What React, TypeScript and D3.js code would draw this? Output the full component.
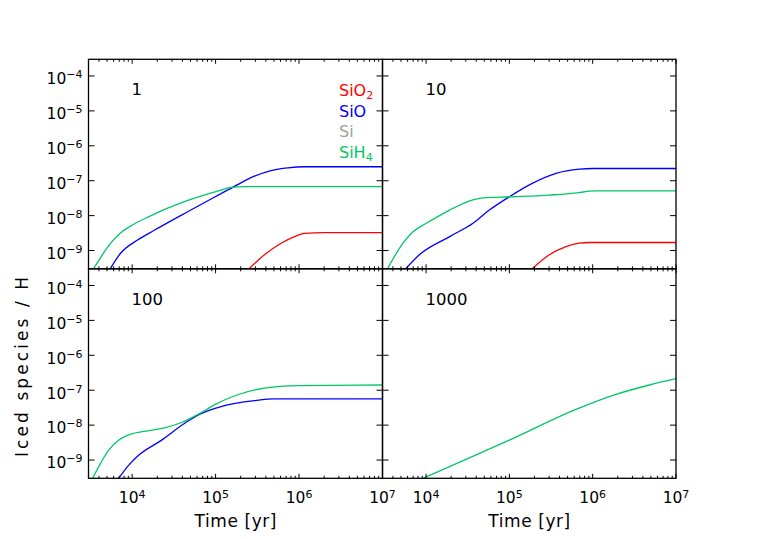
import { useEffect, useRef } from "react";
import * as d3 from "d3";

const width = 763;
const height = 539;
const colX = [88.5, 382.5, 676];
const rowY = [59.3, 268.8, 478.3];
const timeDomain = [3000, 1e7];
const abundDomain = [3e-10, 3e-4];
const font = "DejaVu Sans, Verdana, sans-serif";

const colors = { SiO2: "#ff0000", SiO: "#0000ff", Si: "#a0a0a0", SiH4: "#00c864" };
const panelLabels = ["1", "10", "100", "1000"];

// [time (yr), abundance]
const p1SiO2 = [[245471, 2.82e-10], [385478, 7.59e-10], [609537, 1.62e-9], [883079, 2.51e-9], [1164126, 3.09e-9], [1995262, 3.24e-9], [1e7, 3.24e-9]];
const p1SiO = [[5370, 2.82e-10], [7311, 8.51e-10], [11614, 2.0e-9], [18408, 3.8e-9], [46238, 1.29e-8], [116145, 4.27e-8], [184077, 7.76e-8], [292415, 1.35e-7], [462381, 1.95e-7], [732825, 2.34e-7], [1164126, 2.51e-7], [1e7, 2.51e-7]];
const p1SiH4 = [[3388, 2.82e-10], [4074, 5.62e-10], [4898, 1.12e-9], [7079, 3.02e-9], [10233, 5.5e-9], [16218, 9.55e-9], [25704, 1.585e-8], [45709, 2.69e-8], [116145, 5.37e-8], [153109, 6.46e-8], [223872, 6.76e-8], [1e7, 6.76e-8]];

const p2SiO2 = [[181970, 2.82e-10], [301995, 7.59e-10], [478630, 1.29e-9], [691831, 1.62e-9], [912011, 1.7e-9], [1e7, 1.7e-9]];
const p2SiO = [[5559, 2.82e-10], [8318, 7.59e-10], [19187, 2.51e-9], [36559, 6.03e-9], [57544, 1.445e-8], [1e5, 3.47e-8], [190546, 8.51e-8], [363078, 1.62e-7], [691831, 2.14e-7], [1e6, 2.24e-7], [1e7, 2.24e-7]];
const p2SiH4 = [[3388, 2.82e-10], [5284, 1.62e-9], [6966, 3.47e-9], [10069, 6.03e-9], [19187, 1.445e-8], [36559, 2.82e-8], [48195, 3.24e-8], [1e5, 3.47e-8], [301995, 3.89e-8], [691831, 4.57e-8], [912011, 5.01e-8], [1122018, 5.13e-8], [1e7, 5.13e-8]];

const p3SiO = [[6761, 2.82e-10], [9226, 7.41e-10], [12162, 1.41e-9], [22131, 3.6e-9], [46238, 1.29e-8], [66834, 2.14e-8], [116145, 3.39e-8], [292415, 5.01e-8], [508159, 5.62e-8], [1e7, 5.62e-8]];
const p3SiH4 = [[3311, 2.82e-10], [5309, 2.0e-9], [6998, 3.8e-9], [9226, 5.37e-9], [13964, 6.61e-9], [24266, 8.32e-9], [38459, 1.17e-8], [60954, 2.0e-8], [96605, 3.8e-8], [184077, 7.41e-8], [385478, 1.148e-7], [968278, 1.35e-7], [1e7, 1.41e-7]];

const p4SiH4 = [[8710, 2.82e-10], [1e5, 3.72e-9], [630957, 2.82e-8], [1905461, 7.59e-8], [4786301, 1.41e-7], [1e7, 2.14e-7]];

const panels = [
  [{ name: "SiO2", data: p1SiO2 }, { name: "SiO", data: p1SiO }, { name: "SiH4", data: p1SiH4 }],
  [{ name: "SiO2", data: p2SiO2 }, { name: "SiO", data: p2SiO }, { name: "SiH4", data: p2SiH4 }],
  [{ name: "SiO", data: p3SiO }, { name: "SiH4", data: p3SiH4 }],
  [{ name: "SiH4", data: p4SiH4 }],
];

function App() {
  const ref = useRef<SVGSVGElement | null>(null);

  useEffect(() => {
    const svg = d3.select(ref.current);
    svg.selectAll("*").remove();
    svg.append("rect").attr("width", width).attr("height", height).attr("fill", "#fff");

    const isMajor = (v: number) => Math.abs(Math.log10(v) - Math.round(Math.log10(v))) < 1e-6;

    panels.forEach((series, i) => {
      const c = i % 2;
      const r = Math.floor(i / 2);
      const x0 = colX[c], x1 = colX[c + 1];
      const y0 = rowY[r], y1 = rowY[r + 1];

      const x = d3.scaleLog().domain(timeDomain).range([x0, x1]);
      const y = d3.scaleLog().domain(abundDomain).range([y1, y0]);

      const g = svg.append("g");

      // clip
      const clipId = "clip" + i;
      svg.append("clipPath").attr("id", clipId)
        .append("rect").attr("x", x0).attr("y", y0).attr("width", x1 - x0).attr("height", y1 - y0);

      const line = d3.line<number[]>()
        .x((d) => x(d[0]))
        .y((d) => y(d[1]))
        .curve(d3.curveMonotoneX);

      g.append("g").attr("clip-path", `url(#${clipId})`)
        .selectAll("path")
        .data(series)
        .enter()
        .append("path")
        .attr("fill", "none")
        .attr("stroke", (d) => colors[d.name as keyof typeof colors])
        .attr("stroke-width", 1.3)
        .attr("d", (d) => line(d.data));

      // ticks
      const xt = x.ticks();
      const yt = y.ticks().filter(isMajor);
      const tk = g.append("g").attr("stroke", "#000").attr("stroke-width", 1);
      xt.forEach((v) => {
        const len = isMajor(v) ? 4.5 : 2.5;
        const px = x(v);
        tk.append("line").attr("x1", px).attr("x2", px).attr("y1", y1).attr("y2", y1 - len);
        tk.append("line").attr("x1", px).attr("x2", px).attr("y1", y0).attr("y2", y0 + len);
      });
      yt.forEach((v) => {
        const py = y(v);
        tk.append("line").attr("x1", x0).attr("x2", x0 + 6).attr("y1", py).attr("y2", py);
        tk.append("line").attr("x1", x1).attr("x2", x1 - 6).attr("y1", py).attr("y2", py);
      });

      g.append("rect")
        .attr("x", x0).attr("y", y0).attr("width", x1 - x0).attr("height", y1 - y0)
        .attr("fill", "none").attr("stroke", "#000").attr("stroke-width", 1.3);

      // y tick labels
      if (c === 0) {
        yt.forEach((v) => {
          const t = g.append("text")
            .attr("x", x0 - 6).attr("y", y(v) + 8.3)
            .attr("text-anchor", "end")
            .attr("font-family", font).attr("font-size", 15.5).attr("fill", "#000");
          t.append("tspan").text("10");
          t.append("tspan").attr("font-size", 11).attr("dy", -6).text("\u2212" + Math.abs(Math.round(Math.log10(v))));
        });
      }
      // x tick labels
      if (r === 1) {
        xt.filter(isMajor).forEach((v) => {
          const t = g.append("text")
            .attr("x", x(v)).attr("y", y1 + 25)
            .attr("text-anchor", "middle")
            .attr("font-family", font).attr("font-size", 15.5).attr("fill", "#000");
          t.append("tspan").text("10");
          t.append("tspan").attr("font-size", 11).attr("dy", -5.5).text(String(Math.round(Math.log10(v))));
        });
        g.append("text")
          .attr("x", (x0 + x1) / 2).attr("y", 527)
          .attr("text-anchor", "middle")
          .attr("font-family", font).attr("font-size", 17).attr("fill", "#000")
          .attr("textLength", 82).attr("lengthAdjust", "spacing")
          .text("Time [yr]");
      }

      g.append("text")
        .attr("x", x0 + 43).attr("y", y0 + 36)
        .attr("font-family", font).attr("font-size", 16.5).attr("fill", "#000")
        .text(panelLabels[i]);

      if (i === 0) {
        const leg = ["SiO2", "SiO", "Si", "SiH4"];
        leg.forEach((n, k) => {
          const t = g.append("text")
            .attr("x", 339).attr("y", 96 + k * 20.5)
            .attr("font-family", font).attr("font-size", 16).attr("fill", colors[n as keyof typeof colors]);
          if (n === "SiO2") {
            t.append("tspan").text("SiO");
            t.append("tspan").attr("font-size", 11).attr("dy", 3).text("2");
          } else if (n === "SiH4") {
            t.append("tspan").text("SiH");
            t.append("tspan").attr("font-size", 11).attr("dy", 3).text("4");
          } else {
            t.text(n);
          }
        });
      }
    });

    svg.append("text")
      .attr("transform", "translate(28,367) rotate(-90)")
      .attr("text-anchor", "middle")
      .attr("font-family", font).attr("font-size", 17).attr("fill", "#000")
      .attr("textLength", 180).attr("lengthAdjust", "spacing")
      .text("Iced species / H");
  }, []);

  return (
    <svg
      ref={ref}
      width={width}
      height={height}
      style={{ position: "absolute", left: 0, top: 0 }}
    />
  );
}

export default App;
